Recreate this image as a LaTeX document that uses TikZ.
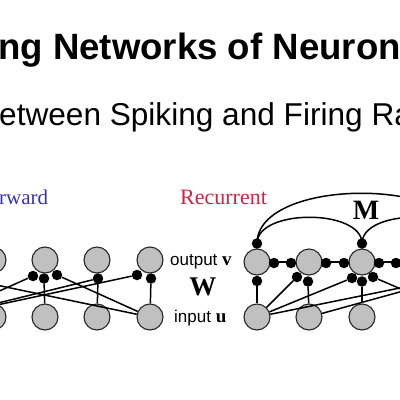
\documentclass[tikz,border=0pt]{standalone}
\usepackage{fontspec}
\setmainfont{Liberation Serif}
\newfontfamily\arialfont{Liberation Sans}
\usetikzlibrary{calc}
\definecolor{ffblue}{RGB}{55,50,175}
\definecolor{recred}{RGB}{205,35,70}
\definecolor{cellgray}{RGB}{192,192,192}
\tikzset{
    cell/.style = {circle, draw = black!85, line width = 1.1pt, fill = cellgray, minimum size = 26pt, inner sep = 0pt},
    syn/.style = {circle, fill = black, minimum size = 10.5pt, inner sep = 0pt},
    wire/.style = {black, line width = 1.5pt},
    lbl/.style = {anchor = base west, inner sep = 0pt},
}

\begin{document}
\begin{tikzpicture}[x = 1pt, y = -1pt]

    \useasboundingbox (0,0) rectangle (400,400);
    \clip (0,0) rectangle (400,400);

    \node[lbl] (title) at (-2,59) {\arialfont\bfseries\fontsize{36.6}{40}\selectfont ng Networks of Neuron};
    \node[lbl] (subtitle) at (-1,125.5) {\arialfont\fontsize{31.6}{36}\selectfont etween Spiking and Firing Ra};

    % feedforward
    \begin{scope}
        \node[lbl, text = ffblue] (fflabel) at (-1,204) {\fontsize{21}{24}\selectfont rward};

        \node[cell] (fv0) at (-59,260) {};
        \node[cell] (fv1) at (-7,260) {};
        \node[cell] (fv2) at (45,260) {};
        \node[cell] (fv3) at (97,260) {};
        \node[cell] (fv4) at (150,260) {};

        \node[cell] (fu0) at (-59,317) {};
        \node[cell] (fu1) at (-7,317) {};
        \node[cell] (fu2) at (45,317) {};
        \node[cell] (fu3) at (97,317) {};
        \node[cell] (fu4) at (150,317) {};

        \node[syn] (fv0r) at ($(fv0) + (12,16)$) {};
        \node[syn] (fv2l) at ($(fv2) + (-12,16)$) {};
        \node[syn] (fv2b) at ($(fv2) + (-1,18.5)$) {};
        \node[syn] (fv2r) at ($(fv2) + (12,15)$) {};
        \node[syn] (fv3b) at ($(fv3) + (1,18.5)$) {};
        \node[syn] (fv4l) at ($(fv4) + (-13,15)$) {};
        \node[syn] (fv4b) at ($(fv4) + (1,18.5)$) {};

        \draw[wire] (fu0) -- (fv2l);
        \draw[wire] (fu0) -- (fv3b);
        \draw[wire] (fu0) -- (fv4l);
        \draw[wire] (fv2b) -- (fu2);
        \draw[wire] (fv2r) -- (fu4);
        \draw[wire] (fv3b) -- (fu3);
        \draw[wire] (fv4b) -- (fu4);
        \draw[wire] (fv0r) -- (fu4);

        \node[lbl] (vlabel) at (170,265) {\arialfont\fontsize{17}{20}\selectfont output {\rmfamily\bfseries\fontsize{19}{20}\selectfont v}};
        \node[inner sep = 0pt] (wlabel) at (203,287) {\bfseries\fontsize{27}{30}\selectfont W};
        \node[lbl] (ulabel) at (174,322) {\arialfont\fontsize{17}{20}\selectfont input {\rmfamily\bfseries\fontsize{19}{20}\selectfont u}};
    \end{scope}

    % recurrent
    \begin{scope}
        \node[lbl, text = recred] (reclabel) at (180,204) {\fontsize{22}{24}\selectfont Recurrent};

        \node[cell] (rv0) at (257,262) {};
        \node[cell] (rv1) at (309,262) {};
        \node[cell] (rv2) at (362,262) {};
        \node[cell] (rv3) at (414,262) {};
        \node[cell] (rv4) at (466,262) {};

        \node[cell] (ru0) at (257,317) {};
        \node[cell] (ru1) at (309,317) {};
        \node[cell] (ru2) at (362,317) {};
        \node[cell] (ru3) at (414,317) {};
        \node[cell] (ru4) at (466,317) {};

        \draw[wire] (rv0) -- (rv1);
        \draw[wire] (rv1) -- (rv2);
        \draw[wire] (rv2) -- (rv3);
        \draw[wire] (rv3) -- (rv4);

        \node[syn] (rv0t) at ($(rv0) + (0,-18.5)$) {};
        \node[syn] (rv0b) at ($(rv0) + (0,19)$) {};
        \node[syn] (rv0r) at ($(rv0) + (17,1)$) {};
        \node[syn] (rv1l) at ($(rv1) + (-18,1)$) {};
        \node[syn] (rv1r) at ($(rv1) + (17,1)$) {};
        \node[syn] (rv1ll) at ($(rv1) + (-12,15)$) {};
        \node[syn] (rv1b) at ($(rv1) + (-1,19.5)$) {};
        \node[syn] (rv2t) at ($(rv2) + (0,-18.5)$) {};
        \node[syn] (rv2l) at ($(rv2) + (-18,1)$) {};
        \node[syn] (rv2r) at ($(rv2) + (17,1)$) {};
        \node[syn] (rv2ll) at ($(rv2) + (-10,16)$) {};
        \node[syn] (rv2b) at ($(rv2) + (0,19.5)$) {};
        \node[syn] (rv2lr) at ($(rv2) + (11,15)$) {};
        \node[syn] (rv3l) at ($(rv3) + (-18,1)$) {};
        \node[syn] (rv4t) at ($(rv4) + (0,-18.5)$) {};
        \node[syn] (rv4ll) at ($(rv4) + (-12,15)$) {};

        \draw[wire] (rv0) -- (ru0);
        \draw[wire] (rv1b) -- (ru1);
        \draw[wire] (rv2b) -- (ru2);
        \draw[wire] (ru0) -- (rv1ll);
        \draw[wire] (ru0) -- (rv2ll);
        \draw[wire] (ru0) -- (rv4ll);
        \draw[wire] (ru1) -- (rv4ll);
        \draw[wire] (rv2lr) -- (ru4);

        % lateral arcs
        \draw[wire] (rv0t.center) .. controls ($(rv0t) + (0,-35)$) and ($(rv2t) + (0,-35)$) .. (rv2t.center);
        \draw[wire] (rv0t.center) .. controls ($(rv0t) + (0,-67)$) and ($(rv4t) + (0,-67)$) .. (rv4t.center);
        \draw[wire] (rv2t.center) .. controls ($(rv2t) + (0,-35)$) and ($(rv4t) + (0,-35)$) .. (rv4t.center);

        \node[inner sep = 0pt] (mlabel) at (366,210) {\bfseries\fontsize{28}{30}\selectfont M};
    \end{scope}

\end{tikzpicture}
\end{document}
